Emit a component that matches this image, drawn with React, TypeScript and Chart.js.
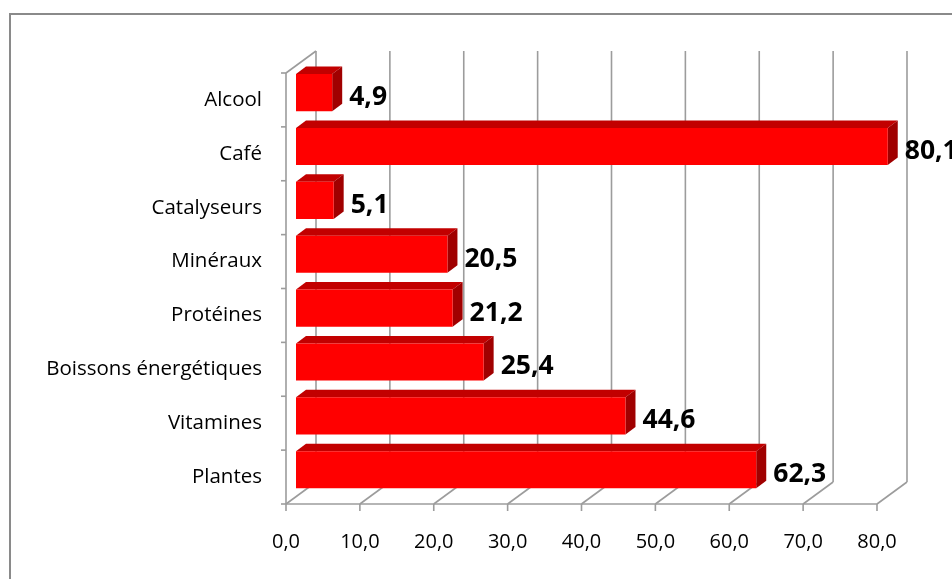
import React, { useEffect, useRef } from "react";
import { Chart, registerables } from "chart.js";

Chart.register(...registerables);

const categories = [
  "Alcool",
  "Café",
  "Catalyseurs",
  "Minéraux",
  "Protéines",
  "Boissons énergétiques",
  "Vitamines",
  "Plantes",
];
const values = [4.9, 80.1, 5.1, 20.5, 21.2, 25.4, 44.6, 62.3];
const xTicks = [0, 10, 20, 30, 40, 50, 60, 70, 80];

// 3D geometry: offset of the back wall, of the bar front face and the bar depth
const WALL_DX = 30;
const WALL_DY = -22;
const BAR_DX = 10;
const BAR_DY = -7.3;
const DEPTH_DX = 10;
const DEPTH_DY = -7.5;

const GRID = "#9c9c9c";
const FRONT = "#ff0000";
const TOP = "#c20000";
const SIDE = "#a00000";

const fmt = (v: number) => v.toFixed(1).replace(".", ",");

const box3d = {
  id: "box3d",
  beforeDraw(chart: any) {
    const { ctx } = chart;
    ctx.save();
    ctx.fillStyle = "#ffffff";
    ctx.fillRect(0, 0, chart.width, chart.height);
    ctx.strokeStyle = "#8a8a8a";
    ctx.lineWidth = 2;
    ctx.strokeRect(10, 14, chart.width + 40, chart.height + 40);
    ctx.restore();
  },
  beforeDatasetsDraw(chart: any) {
    const { ctx, chartArea } = chart;
    const xs = chart.scales.x;
    const { left, top, bottom } = chartArea;
    ctx.save();
    ctx.strokeStyle = GRID;
    ctx.lineWidth = 1.6;
    ctx.lineCap = "butt";
    const line = (x1: number, y1: number, x2: number, y2: number) => {
      ctx.beginPath();
      ctx.moveTo(x1, y1);
      ctx.lineTo(x2, y2);
      ctx.stroke();
    };
    // back wall verticals, floor diagonals and front ticks
    xTicks.forEach((v) => {
      const px = xs.getPixelForValue(v);
      line(px + WALL_DX, top + WALL_DY, px + WALL_DX, bottom + WALL_DY);
      line(px, bottom, px + WALL_DX, bottom + WALL_DY);
      line(px, bottom, px, bottom + 7);
    });
    const right = xs.getPixelForValue(xTicks[xTicks.length - 1]);
    line(left, bottom, right, bottom);
    // left wall front edge, top edge and category ticks
    line(left, top, left, bottom);
    line(left, top, left + WALL_DX, top + WALL_DY);
    const n = categories.length;
    const band = (bottom - top) / n;
    for (let i = 0; i <= n; i++) {
      const y = top + i * band;
      line(left - 5, y, left, y);
    }
    ctx.restore();

    // shift bars back into the box and draw their top and side faces
    ctx.save();
    ctx.translate(BAR_DX, BAR_DY);
    const meta = chart.getDatasetMeta(0);
    meta.data.forEach((bar: any) => {
      const { x, y, base, height } = bar.getProps(["x", "y", "base", "height"], true);
      const y0 = y - height / 2;
      const y1 = y + height / 2;
      ctx.fillStyle = TOP;
      ctx.beginPath();
      ctx.moveTo(base, y0);
      ctx.lineTo(x, y0);
      ctx.lineTo(x + DEPTH_DX, y0 + DEPTH_DY);
      ctx.lineTo(base + DEPTH_DX, y0 + DEPTH_DY);
      ctx.closePath();
      ctx.fill();
      ctx.fillStyle = SIDE;
      ctx.beginPath();
      ctx.moveTo(x, y0);
      ctx.lineTo(x + DEPTH_DX, y0 + DEPTH_DY);
      ctx.lineTo(x + DEPTH_DX, y1 + DEPTH_DY);
      ctx.lineTo(x, y1);
      ctx.closePath();
      ctx.fill();
    });
  },
  afterDatasetsDraw(chart: any) {
    const { ctx } = chart;
    ctx.restore();
    const meta = chart.getDatasetMeta(0);
    ctx.save();
    ctx.fillStyle = "#000000";
    ctx.font = "bold 26.5px 'Open Sans'";
    ctx.textAlign = "left";
    ctx.textBaseline = "alphabetic";
    meta.data.forEach((bar: any, i: number) => {
      const { x, y } = bar.getProps(["x", "y"], true);
      const lx = x + BAR_DX + DEPTH_DX + 7;
      const ly = y + BAR_DY + 3 + 0.357 * 26.5;
      ctx.fillText(fmt(values[i]), lx, ly);
    });
    ctx.restore();
  },
};

export default function App() {
  const ref = useRef<HTMLCanvasElement | null>(null);

  useEffect(() => {
    if (!ref.current) return;
    const chart = new Chart(ref.current, {
      type: "bar",
      data: {
        labels: categories,
        datasets: [
          {
            data: values,
            backgroundColor: FRONT,
            borderWidth: 0,
            barPercentage: 0.69,
            categoryPercentage: 1,
            clip: false as any,
          },
        ],
      },
      options: {
        indexAxis: "y",
        animation: false,
        responsive: false,
        devicePixelRatio: 1,
        layout: { padding: { left: 8, top: 73, right: 75, bottom: 0 } },
        plugins: {
          legend: { display: false },
          tooltip: { enabled: false },
        },
        scales: {
          x: {
            min: 0,
            max: 80,
            grid: { display: false, drawTicks: false },
            border: { display: false },
            afterFit: (s: any) => {
              s.height = 75;
            },
            ticks: {
              stepSize: 10,
              padding: 26,
              color: "#000000",
              font: { family: "'Open Sans'", size: 20 },
              callback: (v: any) => fmt(Number(v)),
            },
          },
          y: {
            grid: { display: false, drawTicks: false },
            border: { display: false },
            afterFit: (s: any) => {
              s.width = 278;
            },
            ticks: {
              padding: 24,
              color: "#000000",
              font: { family: "'Open Sans'", size: 20.5 },
            },
          },
        },
      },
      plugins: [box3d],
    });
    return () => chart.destroy();
  }, []);

  return (
    <div style={{ position: "fixed", left: 0, top: 0, width: 952, height: 579, overflow: "hidden" }}>
      <canvas ref={ref} width={952} height={579} style={{ display: "block" }} />
    </div>
  );
}
